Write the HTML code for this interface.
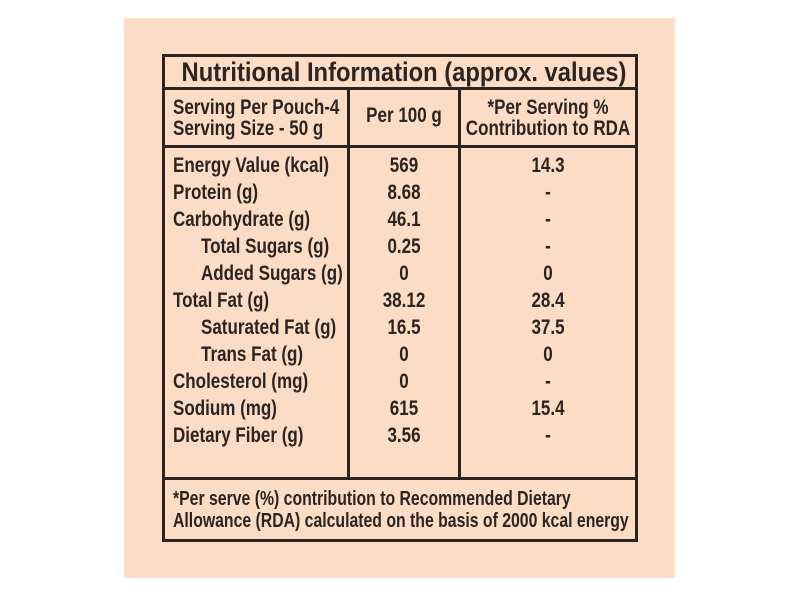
<!DOCTYPE html>
<html><head><meta charset="utf-8"><style>
body{margin:0;width:800px;height:599px;background:#fff;position:relative;overflow:hidden;font-family:"Liberation Sans Narrow","Liberation Sans",sans-serif;font-weight:bold;color:#2b2420}
.p{position:absolute;left:124px;top:18px;width:551px;height:560px;background:#fcdcc5}
.l{position:absolute;background:#2b2420}
.t{position:absolute;font-size:21px;line-height:20px;white-space:nowrap;transform:scaleX(.81);transform-origin:0 0}
.c{position:absolute;font-size:21px;line-height:20px;white-space:nowrap;transform:translateX(-50%) scaleX(.81);transform-origin:50% 0;text-align:center}
</style></head><body>
<div class="p"></div>
<div class="l" style="left:162px;top:54px;width:476px;height:3px"></div>
<div class="l" style="left:162px;top:539px;width:476px;height:3px"></div>
<div class="l" style="left:162px;top:54px;width:3px;height:488px"></div>
<div class="l" style="left:635px;top:54px;width:3px;height:488px"></div>
<div class="l" style="left:162px;top:87px;width:476px;height:3px"></div>
<div class="l" style="left:162px;top:145px;width:476px;height:3px"></div>
<div class="l" style="left:162px;top:477px;width:476px;height:3px"></div>
<div class="l" style="left:347px;top:88px;width:3px;height:390px"></div>
<div class="l" style="left:458px;top:88px;width:3px;height:390px"></div>
<div class="c" style="left:404px;top:58px;font-size:27px;line-height:28px;transform:translateX(-50%) scaleX(.88)">Nutritional Information (approx. values)</div>
<div class="t" style="left:173px;top:97px;line-height:21px">Serving Per Pouch-4<br>Serving Size - 50 g</div>
<div class="c" style="left:404px;top:106px">Per 100 g</div>
<div class="c" style="left:548px;top:97px;line-height:21px">*Per Serving %<br>Contribution to RDA</div>

<div class="t" style="left:173px;top:156px">Energy Value (kcal)</div><div class="c" style="left:404px;top:156px">569</div><div class="c" style="left:548px;top:156px">14.3</div>
<div class="t" style="left:173px;top:183px">Protein (g)</div><div class="c" style="left:404px;top:183px">8.68</div><div class="c" style="left:548px;top:183px">-</div>
<div class="t" style="left:173px;top:210px">Carbohydrate (g)</div><div class="c" style="left:404px;top:210px">46.1</div><div class="c" style="left:548px;top:210px">-</div>
<div class="t" style="left:201px;top:237px">Total Sugars (g)</div><div class="c" style="left:404px;top:237px">0.25</div><div class="c" style="left:548px;top:237px">-</div>
<div class="t" style="left:201px;top:264px">Added Sugars (g)</div><div class="c" style="left:404px;top:264px">0</div><div class="c" style="left:548px;top:264px">0</div>
<div class="t" style="left:173px;top:291px">Total Fat (g)</div><div class="c" style="left:404px;top:291px">38.12</div><div class="c" style="left:548px;top:291px">28.4</div>
<div class="t" style="left:201px;top:318px">Saturated Fat (g)</div><div class="c" style="left:404px;top:318px">16.5</div><div class="c" style="left:548px;top:318px">37.5</div>
<div class="t" style="left:201px;top:345px">Trans Fat (g)</div><div class="c" style="left:404px;top:345px">0</div><div class="c" style="left:548px;top:345px">0</div>
<div class="t" style="left:173px;top:372px">Cholesterol (mg)</div><div class="c" style="left:404px;top:372px">0</div><div class="c" style="left:548px;top:372px">-</div>
<div class="t" style="left:173px;top:399px">Sodium (mg)</div><div class="c" style="left:404px;top:399px">615</div><div class="c" style="left:548px;top:399px">15.4</div>
<div class="t" style="left:173px;top:426px">Dietary Fiber (g)</div><div class="c" style="left:404px;top:426px">3.56</div><div class="c" style="left:548px;top:426px">-</div>

<div class="t" style="left:173px;top:488px;font-size:20px;line-height:22px;transform:scaleX(.79)">*Per serve (%) contribution to Recommended Dietary<br>Allowance (RDA) calculated on the basis of 2000 kcal energy</div>
</body></html>
